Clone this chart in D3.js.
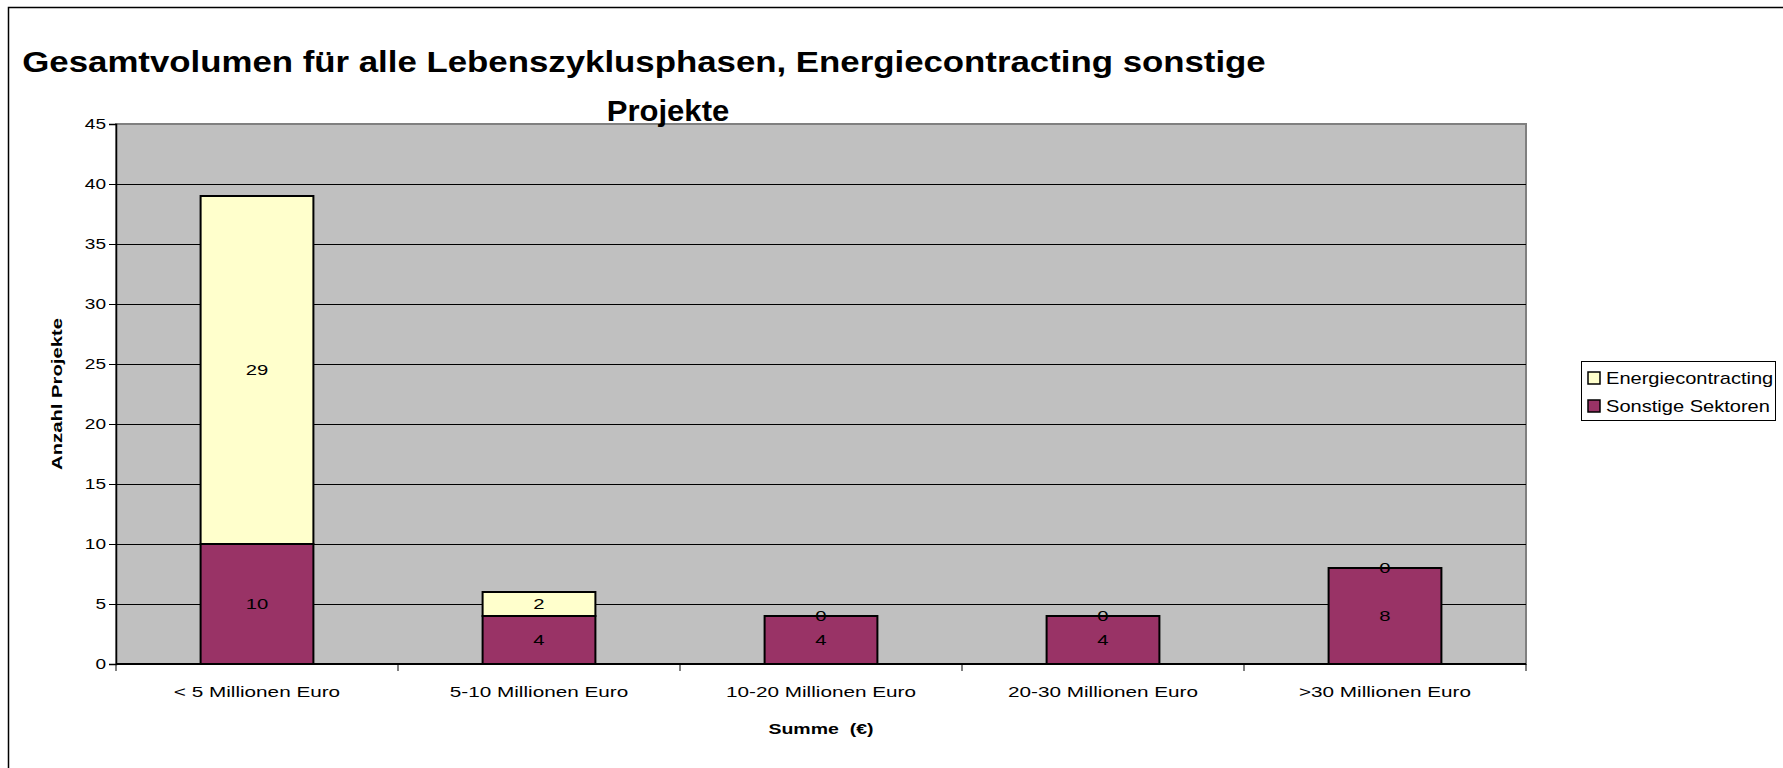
<!DOCTYPE html>
<html>
<head>
<meta charset="utf-8">
<script src="https://cdn.jsdelivr.net/npm/d3@7"></script>
<style>
  body { margin: 0; background: #fff; }
  svg { display: block; font-family: "Liberation Sans", Arial, sans-serif; }
</style>
</head>
<body>
<svg width="1783" height="768"></svg>
<script>
var categories = ["< 5 Millionen Euro", "5-10 Millionen Euro", "10-20 Millionen Euro", "20-30 Millionen Euro", ">30 Millionen Euro"];
var sonstige = [10, 4, 4, 4, 8];
var energie = [29, 2, 0, 0, 0];
var seriesNames = ["Energiecontracting", "Sonstige Sektoren"];
var yTicks = [0, 5, 10, 15, 20, 25, 30, 35, 40, 45];

var svg = d3.select("svg");

var plot = {left: 116, top: 124, right: 1526, bottom: 664};

// the original text is drawn wider than Arial, so stretch it a bit
function widen(sel, factor) {
  sel.each(function() {
    var w = this.getComputedTextLength();
    d3.select(this)
      .attr("textLength", w * factor)
      .attr("lengthAdjust", "spacingAndGlyphs");
  });
}

// outer chart border (only top and left show in the shot)
svg.append("rect")
  .attr("x", 8.5).attr("y", 7.5)
  .attr("width", 1800).attr("height", 800)
  .attr("fill", "none")
  .attr("stroke", "#000")
  .attr("stroke-width", 1.5);

var x = d3.scaleBand()
  .domain(categories)
  .range([plot.left, plot.right])
  .paddingInner(0.6)
  .paddingOuter(0.3);

var y = d3.scaleLinear()
  .domain([0, 45])
  .range([plot.bottom, plot.top]);

// plot background
svg.append("rect")
  .attr("x", plot.left).attr("y", plot.top)
  .attr("width", plot.right - plot.left)
  .attr("height", plot.bottom - plot.top)
  .attr("fill", "#c0c0c0")
  .attr("stroke", "#808080")
  .attr("stroke-width", 2);

// gridlines
svg.append("g")
  .selectAll("line")
  .data(yTicks.filter(function(d) { return d > 0 && d < 45; }))
  .enter().append("line")
  .attr("x1", plot.left).attr("x2", plot.right)
  .attr("y1", function(d) { return Math.round(y(d)) + 0.5; })
  .attr("y2", function(d) { return Math.round(y(d)) + 0.5; })
  .attr("stroke", "#000")
  .attr("stroke-width", 1);

// stacked bars
var table = categories.map(function(c, i) {
  return {cat: c, "Sonstige Sektoren": sonstige[i], "Energiecontracting": energie[i]};
});
var stack = d3.stack().keys(["Sonstige Sektoren", "Energiecontracting"]);
var layers = stack(table);
var colors = {"Sonstige Sektoren": "#993366", "Energiecontracting": "#ffffcc"};

var layerG = svg.selectAll("g.layer")
  .data(layers)
  .enter().append("g")
  .attr("class", "layer")
  .attr("fill", function(d) { return colors[d.key]; });

layerG.selectAll("rect")
  .data(function(d) { return d; })
  .enter().append("rect")
  .attr("x", function(d) { return x(d.data.cat); })
  .attr("y", function(d) { return y(d[1]); })
  .attr("width", x.bandwidth())
  .attr("height", function(d) { return y(d[0]) - y(d[1]); })
  .attr("stroke", "#000")
  .attr("stroke-width", 2);

// value labels
layers.forEach(function(layer) {
  svg.append("g")
    .selectAll("text")
    .data(layer)
    .enter().append("text")
    .attr("x", function(d) { return x(d.data.cat) + x.bandwidth() / 2; })
    .attr("y", function(d) { return (y(d[0]) + y(d[1])) / 2; })
    .attr("dy", "0.35em")
    .attr("text-anchor", "middle")
    .attr("font-size", 15)
    .attr("fill", "#000")
    .text(function(d) { return d[1] - d[0]; })
    .call(widen, 1.35);
});

// y axis
var yAxis = d3.axisLeft(y).tickValues(yTicks).tickSize(7).tickPadding(3);
var gy = svg.append("g")
  .attr("transform", "translate(" + plot.left + ",0)")
  .call(yAxis);
gy.select(".domain").attr("stroke", "#000").attr("stroke-width", 1.5);
gy.selectAll("text")
  .attr("font-size", 15)
  .attr("font-family", "Liberation Sans, Arial")
  .attr("fill", "#000")
  .call(widen, 1.27);

// x axis with ticks at band boundaries
var gx = svg.append("g")
  .attr("transform", "translate(0," + plot.bottom + ")");
gx.append("line")
  .attr("x1", plot.left).attr("x2", plot.right)
  .attr("stroke", "#000").attr("stroke-width", 2);
var step = x.step();
var edges = d3.range(categories.length + 1).map(function(i) { return plot.left + i * step; });
gx.selectAll("line.tick")
  .data(edges)
  .enter().append("line")
  .attr("class", "tick")
  .attr("x1", function(d) { return d; }).attr("x2", function(d) { return d; })
  .attr("y1", 0).attr("y2", 7)
  .attr("stroke", "#000");
gx.selectAll("text")
  .data(categories)
  .enter().append("text")
  .attr("x", function(d) { return x(d) + x.bandwidth() / 2; })
  .attr("y", 28)
  .attr("dy", "0.35em")
  .attr("text-anchor", "middle")
  .attr("font-size", 15)
  .text(function(d) { return d; })
  .call(widen, 1.38);

// axis titles
svg.append("text")
  .attr("x", (plot.left + plot.right) / 2)
  .attr("y", 729)
  .attr("dy", "0.35em")
  .attr("text-anchor", "middle")
  .attr("font-size", 15)
  .attr("font-weight", "bold")
  .attr("xml:space", "preserve")
  .text("Summe  (\u20ac)")
  .call(widen, 1.3);

svg.append("text")
  .attr("transform", "translate(57," + (plot.top + plot.bottom) / 2 + ") rotate(-90)")
  .attr("dy", "0.35em")
  .attr("text-anchor", "middle")
  .attr("font-size", 15)
  .attr("font-weight", "bold")
  .text("Anzahl Projekte")
  .call(widen, 1.35);

// title, two lines as Excel wrapped it
svg.append("text")
  .attr("x", 644).attr("y", 72)
  .attr("text-anchor", "middle")
  .attr("font-size", 29)
  .attr("font-weight", "bold")
  .text("Gesamtvolumen f\u00fcr alle Lebenszyklusphasen, Energiecontracting sonstige")
  .call(widen, 1.2);
svg.append("text")
  .attr("x", 668).attr("y", 121)
  .attr("text-anchor", "middle")
  .attr("font-size", 29)
  .attr("font-weight", "bold")
  .text("Projekte")
  .call(widen, 1.07);

// legend
var legend = svg.append("g").attr("transform", "translate(1581,361)");
legend.append("rect")
  .attr("x", 0.5).attr("y", 0.5)
  .attr("width", 194).attr("height", 59)
  .attr("fill", "#fff")
  .attr("stroke", "#000");
var items = legend.selectAll("g.item")
  .data(seriesNames)
  .enter().append("g")
  .attr("class", "item")
  .attr("transform", function(d, i) { return "translate(7," + (17 + i * 28) + ")"; });
items.append("rect")
  .attr("x", 0).attr("y", -6)
  .attr("width", 12).attr("height", 12)
  .attr("fill", function(d) { return colors[d]; })
  .attr("stroke", "#000")
  .attr("stroke-width", 1.5);
items.append("text")
  .attr("x", 18)
  .attr("dy", "0.35em")
  .attr("font-size", 17)
  .text(function(d) { return d; })
  .call(widen, 1.18);
</script>
</body>
</html>
